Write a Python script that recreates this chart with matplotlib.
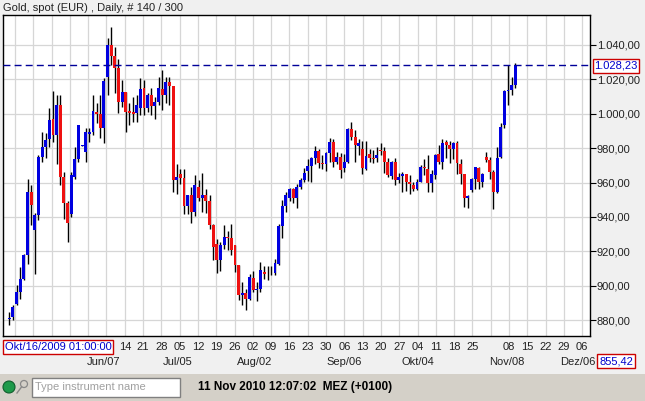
import matplotlib
matplotlib.use("Agg")
import matplotlib.pyplot as plt
from matplotlib.patches import Rectangle, Ellipse
import numpy as np

plt.rcParams['font.family'] = ['Liberation Sans', 'DejaVu Sans']

title = "Gold, spot (EUR) , Daily, # 140 / 300"
# OHLC values (EUR), one row per daily candle
opens = [880.6,881.7,889.5,896.3,904.1,917.7,954.6,932.2,941.0,975.0,980.8,985.6,996.9,987.6,1005.0,963.3,947.8,941.9,963.3,973.6,
 981.5,977.9,988.0,989.5,1001.2,999.6,991.5,1021.6,1040.0,1033.8,1026.8,1006.6,1012.8,1001.6,1001.0,1000.2,1003.1,1015.1,1003.1,1010.9,
 1004.7,1006.6,1014.4,1010.9,1018.3,1016.3,961.4,964.7,962.7,946.4,952.6,942.9,957.5,951.1,953.0,949.1,935.1,924.5,914.8,923.5,
 928.3,927.8,923.5,911.8,894.4,895.9,892.4,904.5,897.3,898.3,908.2,907.0,907.2,907.6,912.8,934.8,946.4,951.1,956.1,951.1,
 957.5,961.4,966.6,969.7,974.4,978.3,971.1,970.5,976.9,983.7,972.0,975.0,968.5,972.0,990.9,986.6,981.4,979.4,967.8,976.3,
 974.4,974.4,979.0,978.3,972.0,963.9,972.0,961.6,963.9,964.7,960.4,958.8,956.5,960.4,969.1,967.8,960.0,964.3,976.3,972.0,
 983.3,982.1,979.4,982.7,970.5,965.2,951.1,955.5,961.9,968.2,960.4,975.0,973.0,966.2,954.6,975.0,993.4,1013.2,1013.8,1016.7]
closes = [881.0,887.6,896.3,904.1,918.1,954.6,946.8,941.0,975.0,980.8,984.7,996.3,987.6,1005.0,963.3,947.8,936.7,964.3,973.6,993.4,
 981.9,989.5,989.5,1001.6,999.6,991.5,1019.0,1040.0,1033.8,1026.8,1006.6,1012.8,1000.8,1000.2,1000.0,1005.0,1014.4,1003.1,1010.9,1004.7,
 1006.6,1014.8,1010.9,1018.3,1016.3,961.4,963.3,962.7,946.4,952.6,942.9,958.4,951.1,953.0,949.1,935.1,922.5,914.8,923.5,928.3,
 927.8,920.6,911.8,894.4,895.9,892.4,905.0,897.3,898.3,908.9,906.8,906.5,907.6,913.4,934.8,946.4,953.0,956.5,951.1,957.5,
 961.4,965.8,969.7,974.4,978.3,971.1,970.5,976.9,983.7,972.0,975.0,967.2,972.0,990.9,986.6,981.7,982.7,968.5,975.5,974.0,
 973.6,976.0,978.3,972.0,964.3,972.0,961.4,963.3,964.7,960.4,959.4,956.5,960.4,969.1,968.2,960.0,964.7,975.9,972.0,982.7,
 982.1,979.4,982.7,971.1,965.2,951.1,952.2,961.9,968.9,960.4,964.7,973.0,966.2,954.6,974.0,992.4,1013.2,1013.6,1016.7,1028.23]
highs = [884.7,888.5,900.2,910.9,918.6,962.3,958.4,942.0,976.0,989.5,989.0,1003.1,1013.2,1010.9,1010.9,966.0,949.0,966.0,980.8,993.4,
 982.0,991.5,991.5,1010.9,1006.0,1010.9,1020.6,1043.9,1050.7,1039.0,1032.0,1019.6,1012.8,1006.0,1010.0,1010.9,1021.0,1019.6,1012.0,1015.0,
 1010.0,1021.4,1025.4,1021.4,1021.4,1016.3,970.5,968.0,967.6,952.6,957.5,964.3,961.4,965.8,956.1,952.6,936.1,927.4,925.4,935.5,
 931.6,936.1,923.5,911.8,902.1,898.3,907.0,908.4,902.1,913.8,911.3,911.3,911.3,915.7,936.1,949.7,954.6,956.9,956.9,959.4,
 962.7,968.5,973.6,975.0,981.4,979.4,975.9,977.9,986.0,985.2,977.5,977.0,976.3,991.5,995.0,990.5,985.2,984.0,984.0,979.4,
 978.8,980.8,982.7,980.4,974.0,972.4,974.4,965.8,966.2,965.2,964.3,960.4,962.0,970.1,973.6,975.9,967.0,976.3,981.7,985.2,
 984.5,984.1,983.7,984.1,973.6,965.2,953.0,962.7,969.1,969.1,965.8,977.9,975.0,967.2,980.8,994.4,1013.8,1028.3,1021.6,1029.3]
lows = [876.9,879.8,888.5,892.4,903.1,912.8,935.0,907.0,938.0,972.0,974.4,980.8,983.7,971.0,958.4,939.0,925.4,940.0,962.3,972.0,
 981.0,972.0,983.7,987.6,994.4,986.0,983.0,1010.9,1028.3,1011.8,1000.2,1004.0,989.5,993.4,995.0,995.0,999.0,999.0,1001.0,999.0,
 997.0,1005.0,1002.0,1006.0,1005.0,954.6,953.6,959.4,941.4,941.9,936.7,940.8,949.0,942.9,942.5,933.2,914.8,907.6,908.4,921.6,
 920.6,917.7,907.8,891.5,888.5,885.6,891.5,896.3,891.0,896.3,904.1,903.1,906.0,906.0,912.2,927.8,942.9,949.0,948.0,944.9,
 956.5,960.4,960.8,960.4,970.5,968.5,968.0,966.6,972.0,969.1,970.5,962.7,966.2,971.1,984.5,972.0,975.9,964.7,967.2,972.0,
 971.1,972.0,976.0,965.8,963.3,961.9,958.8,960.0,954.6,955.0,953.6,955.0,955.5,960.4,964.3,954.6,954.2,961.9,971.0,967.6,
 974.4,971.5,973.8,965.2,959.4,945.8,945.2,954.2,956.5,956.5,957.3,971.9,962.3,944.5,954.0,974.4,991.9,1005.0,1010.9,1015.1]

week_labels = ["14","21","28","05","12","19","26","02","09","16","23","30","06","13","20","27","04","11","18","25","","08","15","22","29","06"]
month_labels = ["Jun/07","Jul/05","Aug/02","Sep/06","Okt/04","Nov/08","Dez/06"]
y_ticks = [880,900,920,940,960,980,1000,1020,1040]
last_price = 1028.23
start_label = "Okt/16/2009 01:00:00"
cursor_value = "855,42"
status_text = "11 Nov 2010 12:07:02  MEZ (+0100)"

W, H = 645, 401
fig = plt.figure(figsize=(W/100, H/100), dpi=100)
fig.patch.set_facecolor('#F0F0F0')

def fx(px): return px / W
def fy(py): return 1 - py / H

L, R, T, B = 3, 590, 15, 336
ax = fig.add_axes([fx(L), fy(B), (R-L)/W, (B-T)/H])
ax.set_facecolor('white')
x0, dx = 9.3, 3.64  # px of first candle, px per candle
def px2i(px): return (px - x0) / dx
ax.set_xlim(px2i(L), px2i(R))
ax.set_ylim(870.7, 1057.45)

n = len(opens)
idx = np.arange(n)
o = np.array(opens); c = np.array(closes); h = np.array(highs); l = np.array(lows)

grid_x = [px2i(15 + 18.3 * k) for k in range(32)]
for g in grid_x:
    ax.axvline(g, color='#D6D6D6', lw=0.9, zorder=0)
for v in y_ticks:
    ax.axhline(v, color='#D6D6D6', lw=0.9, zorder=0)

ax.vlines(idx, l, h, color='black', lw=1.0, zorder=2)
up = c >= o
cols = np.where(up, '#0000E0', '#EE1111')
bottoms = np.minimum(o, c)
heights = np.maximum(np.abs(c - o), 0.4)
ax.bar(idx, heights, bottom=bottoms, width=0.8, color=cols, zorder=3, linewidth=0)

ax.axhline(last_price, color='#000099', lw=1.0, ls=(0, (5, 3)), zorder=4)

def de(v):
    s = f"{v:,.2f}"
    return s.replace(",", "X").replace(".", ",").replace("X", ".")

ax.yaxis.tick_right()
ax.set_yticks(y_ticks)
ax.set_yticklabels([de(v) for v in y_ticks], fontsize=8, color='#222222')
ax.tick_params(axis='y', length=4, width=0.8, pad=1)
ax.set_xticks([])
for s in ax.spines.values():
    s.set_color('black'); s.set_linewidth(1.0)

box = dict(boxstyle='square,pad=0.15', fc='white', ec='#CC0000', lw=1)
fig.text(fx(616), fy(66), de(last_price), fontsize=8, color='#0000CC', ha='center', va='center', bbox=box)

for k, lab in zip(range(6, 32), week_labels):
    fig.text(fx(15 + 18.3 * k), fy(347), lab, fontsize=8, ha='center', va='center', color='#222222')
for lab, px in zip(month_labels, [104, 178, 255, 344, 418, 507, 578]):
    fig.text(fx(px), fy(362), lab, fontsize=8, ha='center', va='center', color='#222222')

fig.text(fx(5), fy(347), start_label, fontsize=8, color='#0000CC', ha='left', va='center', bbox=box)
fig.text(fx(599), fy(361), cursor_value, fontsize=8, color='#0000CC', ha='left', va='center', bbox=box)

fig.text(fx(3), fy(8), title, fontsize=8, ha='left', va='center', color='#222222')

fig.patches.append(Rectangle((0, 0), 1, fy(374), transform=fig.transFigure, fc='#D4D0C8', ec='none', zorder=0))
fig.patches.append(Ellipse((fx(9), fy(387)), 12/W, 12/H, transform=fig.transFigure, fc='#1E9A4A', ec='#0F5E2C', lw=0.8))
fig.patches.append(Ellipse((fx(24), fy(384)), 7/W, 7/H, transform=fig.transFigure, fc='none', ec='#888888', lw=0.9))
fig.lines.append(plt.Line2D([fx(21.5), fx(17)], [fy(387), fy(393)], transform=fig.transFigure, color='#888888', lw=1))
fig.patches.append(Rectangle((fx(32), fy(397)), 148/W, 19/H, transform=fig.transFigure, fc='white', ec='#808080', lw=1))
fig.text(fx(35), fy(387), "Type instrument name", fontsize=8, color='#A0A0A0', ha='left', va='center')
fig.text(fx(198), fy(387), status_text, fontsize=8.5, fontweight='bold', color='black', ha='left', va='center')

fig.savefig("out.png", dpi=100, facecolor=fig.get_facecolor())
